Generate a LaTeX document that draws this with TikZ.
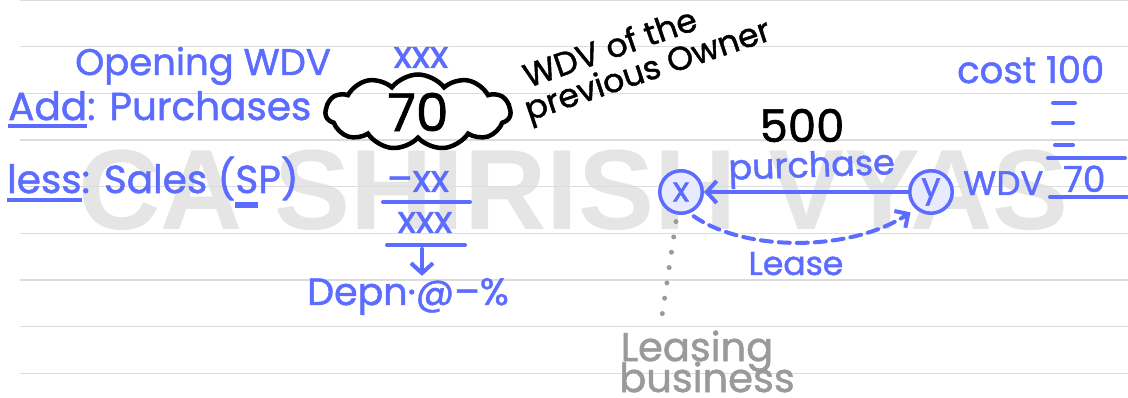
\documentclass[tikz,border=0pt]{standalone}
\usepackage{fontspec}
\setmainfont{Poppins}[FakeBold=1.3]
\newfontfamily\wmfont{Liberation Sans}
\usetikzlibrary{arrows.meta,shapes.symbols}
\definecolor{ink}{HTML}{5B6CFF}
\definecolor{rulec}{HTML}{DCDCDC}
\definecolor{wmc}{HTML}{E5E5E5}
\definecolor{pencil}{HTML}{9A9A9A}
\newcommand\handul[3]{\setbox0\hbox{#3}\rlap{\raisebox{-#1}{\rule{\wd0}{#2}}}\box0}
\begin{document}
\begin{tikzpicture}[x=1pt,y=-1pt,
  hand/.style={inner sep=0pt, text=ink},
  blk/.style={inner sep=0pt, text=black},
  sz/.style={font=\fontsize{#1}{#1}\selectfont},
  pen/.style={draw=ink, line width=4pt, line cap=round},
  harrow/.style={pen, line join=round, -{Straight Barb[length=10pt,width=22pt]}},
  ball/.style={circle, draw=ink, line width=3.5pt, fill=ink!14, minimum size=42.5pt, inner sep=0pt, text=ink, sz=34},
  ruleline/.style={draw=rulec, line width=1.3pt}]
\useasboundingbox (0,0) rectangle (1128,398);
\fill[white] (0,0) rectangle (1128,398);
% watermark
\node[anchor=base west, inner sep=0pt, text=wmc, font=\wmfont\bfseries\fontsize{114}{114}\selectfont] (wm) at (78,230) {CA SHIRISH VYAS};
% ruled lines
\foreach \yy in {0.8,46.7,93.3,140,186.7,233.3,280,326.7,373.3}
  \draw[ruleline] (20,\yy) -- (1128,\yy);
% left column
\node[hand, sz=37, anchor=base west] (open) at (75,75) {Opening WDV};
\node[hand, sz=38, anchor=base] (x1) at (421,68) {xxx};
\node[hand, sz=39, anchor=base west] (add) at (8,120) {\handul{8pt}{4pt}{Add}: Purchases};
\node[cloud, draw=black, line width=4.5pt, cloud puffs=11, cloud puff arc=105, cloud ignores aspect, minimum width=185pt, minimum height=75pt, inner sep=0pt, blk, sz=52] (cl) at (418,112) {70};
\node[hand, sz=39, anchor=base west] (less) at (7,193) {\handul{9pt}{4pt}{less}: Sales (\handul{15pt}{6pt}{S}P)};
\node[hand, sz=38, anchor=base] (mx) at (418,192) {–xx};
\draw[pen] (383,202) -- (470,202);
\node[hand, sz=38, anchor=base] (x2) at (425,233) {xxx};
\draw[pen] (387,245) -- (465,245);
\node[hand, sz=38, anchor=base west] (depn) at (307,305) {Depn·@–\%};
\coordinate (a1) at (422,249);
\draw[harrow, shorten >=2pt] (a1) -- (depn.north -| a1);
% owner note
\node[blk, sz=33, anchor=base west, rotate=19] (own1) at (528,88) {WDV of the};
\node[blk, sz=33, anchor=base west, rotate=18.5] (own2) at (529,121) {previous Owner};
% middle diagram
\node[blk, sz=45, anchor=base] (five) at (802,142) {500};
\node[hand, sz=35, anchor=base, rotate=2] (pur) at (812,177) {purchase};
\node[ball] (cx) at (681,192) {x};
\node[ball] (cy) at (931,192) {y};
\draw[harrow] (cy) -- (cx);
\draw[pen, line join=round, dash pattern=on 11pt off 7pt, shorten <=5pt, shorten >=6pt,
  -{Straight Barb[length=10pt,width=20pt]}]
  (cx.-68) .. controls (745,252) and (850,252) .. (cy.-132);
\node[hand, sz=33, anchor=base] (lease) at (796,275) {Lease};
\coordinate (dend) at (662,316);
\draw[draw=pencil, line width=5pt, line cap=round, dash pattern=on 0pt off 15.5pt, shorten <=7pt] (cx.-100) -- (dend);
\node[inner sep=0pt, text=pencil, sz=40, anchor=base] (leas) at (697,361) {Leasing};
\node[inner sep=0pt, text=pencil, sz=40, anchor=base] (bus) at (707,392) {business};
% right column
\node[hand, sz=37, anchor=base west] (cost) at (957,83) {cost 100};
\draw[pen] (1053,103) -- (1075,103);
\draw[pen] (1053,123) -- (1073,123);
\draw[pen] (1055,145) -- (1073,145);
\draw[pen] (1048,158) -- (1125,158);
\node[hand, sz=34, anchor=base west] (wdv) at (963,195) {WDV};
\node[hand, sz=36, anchor=base west] (seventy) at (1063,192) {70};
\draw[pen] (1050,197) -- (1127,197);
\end{tikzpicture}
\end{document}
